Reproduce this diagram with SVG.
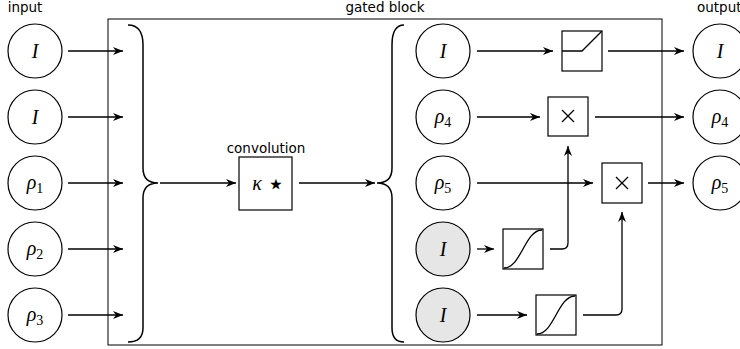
<svg xmlns="http://www.w3.org/2000/svg" width="740" height="349" viewBox="0 0 740 349">
<style>
.lbl{font-family:"DejaVu Sans",sans-serif;font-size:13.5px;fill:#000}
.m{font-family:"Liberation Serif",serif;font-style:italic;font-size:20px;fill:#000}
.sub{font-family:"Liberation Serif",serif;font-style:normal;font-size:14px}
.node{fill:#fff;stroke:#000;stroke-width:1.2}
.gray{fill:#e6e6e6}
.box{fill:#fff;stroke:#000;stroke-width:1.2}
.ln{fill:none;stroke:#000;stroke-width:1.3}
.ar{fill:none;stroke:#000;stroke-width:1.3;marker-end:url(#ah)}
.brace{fill:none;stroke:#000;stroke-width:1.5}
</style>
<defs>
<marker id="ah" markerUnits="userSpaceOnUse" markerWidth="11" markerHeight="8" refX="10" refY="4" orient="auto">
<path d="M0,0 L10,4 L0,8 L3,4 z" fill="#000"/>
</marker>
</defs>
<rect x="0" y="0" width="740" height="349" fill="#fff"/>
<g id="gated-block">
<rect x="108" y="19" width="554" height="326" fill="none" stroke="#000" stroke-width="1"/>
<text class="lbl" x="385" y="12" text-anchor="middle">gated block</text>
</g>
<text class="lbl" x="25" y="12" text-anchor="middle">input</text>
<text class="lbl" x="697" y="12">output</text>
<g id="in1"><circle class="node" cx="35" cy="51" r="27"/><text class="m" x="35" y="58" text-anchor="middle">I</text></g>
<g id="in2"><circle class="node" cx="35" cy="117" r="27"/><text class="m" x="35" y="124" text-anchor="middle">I</text></g>
<g id="in3"><circle class="node" cx="35" cy="183" r="27"/><text class="m" x="35" y="189" text-anchor="middle">ρ<tspan class="sub" dy="4">1</tspan></text></g>
<g id="in4"><circle class="node" cx="35" cy="249" r="27"/><text class="m" x="35" y="255" text-anchor="middle">ρ<tspan class="sub" dy="4">2</tspan></text></g>
<g id="in5"><circle class="node" cx="35" cy="315" r="27"/><text class="m" x="35" y="321" text-anchor="middle">ρ<tspan class="sub" dy="4">3</tspan></text></g>
<g id="brace-left"><path class="brace" d="M128,25 C138,25 143,32 143,45 L143,168 C143,178 148,183 158,183 C148,183 143,188 143,198 L143,328 C143,338 138,342 128,342"/></g>
<g id="conv"><rect class="box" x="239" y="157" width="53" height="53"/><text class="lbl" x="266" y="153" text-anchor="middle">convolution</text><text class="m" x="257" y="190" text-anchor="middle" font-size="17">κ</text><text x="276" y="194" text-anchor="middle" font-family="DejaVu Sans" font-size="30">⋆</text></g>
<g id="brace-right"><path class="brace" d="M404,25 C396,25 392,32 392,45 L392,168 C392,178 387,183 377,183 C387,183 392,188 392,198 L392,328 C392,338 396,342 404,342"/></g>
<g id="g1"><circle class="node" cx="443" cy="51" r="27"/><text class="m" x="443" y="58" text-anchor="middle">I</text></g>
<g id="g2"><circle class="node" cx="443" cy="117" r="27"/><text class="m" x="443" y="123" text-anchor="middle">ρ<tspan class="sub" dy="4">4</tspan></text></g>
<g id="g3"><circle class="node" cx="443" cy="183" r="27"/><text class="m" x="443" y="189" text-anchor="middle">ρ<tspan class="sub" dy="4">5</tspan></text></g>
<g id="g4"><circle class="node gray" cx="443" cy="249" r="27"/><text class="m" x="443" y="256" text-anchor="middle">I</text></g>
<g id="g5"><circle class="node gray" cx="443" cy="315" r="27"/><text class="m" x="443" y="322" text-anchor="middle">I</text></g>
<g id="relu"><rect class="box" x="562" y="31" width="40" height="40"/><path class="ln" d="M562,51 L582,51 L602,31"/></g>
<g id="mul1"><rect class="box" x="548" y="97" width="40" height="39"/><path class="ln" d="M562,110 L574,122 M574,110 L562,122"/></g>
<g id="mul2"><rect class="box" x="602" y="163" width="40" height="40"/><path class="ln" d="M616,177 L628,189 M628,177 L616,189"/></g>
<g id="sig1"><rect class="box" x="503" y="229" width="40" height="40"/><path class="ln" d="M504,268 C521,268 525,230 542,230"/></g>
<g id="sig2"><rect class="box" x="536" y="295" width="40" height="40"/><path class="ln" d="M537,334 C554,334 558,296 575,296"/></g>
<g id="out1"><circle class="node" cx="720" cy="51" r="27"/><text class="m" x="720" y="58" text-anchor="middle">I</text></g>
<g id="out2"><circle class="node" cx="720" cy="117" r="27"/><text class="m" x="720" y="123" text-anchor="middle">ρ<tspan class="sub" dy="4">4</tspan></text></g>
<g id="out3"><circle class="node" cx="720" cy="183" r="27"/><text class="m" x="720" y="189" text-anchor="middle">ρ<tspan class="sub" dy="4">5</tspan></text></g>
<g id="connectors">
<path class="ar" d="M68,51 L123,51"/>
<path class="ar" d="M68,117 L123,117"/>
<path class="ar" d="M68,183 L123,183"/>
<path class="ar" d="M68,249 L123,249"/>
<path class="ar" d="M68,315 L123,315"/>
<path class="ar" d="M160,183 L236,183"/>
<path class="ar" d="M299,183 L375,183"/>
<path class="ar" d="M477,51 L553,51"/>
<path class="ar" d="M477,117 L540,117"/>
<path class="ar" d="M477,183 L593,183"/>
<path class="ar" d="M477,249 L494,249"/>
<path class="ar" d="M477,315 L527,315"/>
<path class="ar" d="M550,249 L562,249 Q568,249 568,243 L568,146"/>
<path class="ar" d="M583,315 L616,315 Q622,315 622,309 L622,212"/>
<path class="ar" d="M608,51 L684,51"/>
<path class="ar" d="M595,117 L684,117"/>
<path class="ar" d="M648,183 L684,183"/>
</g>
</svg>
